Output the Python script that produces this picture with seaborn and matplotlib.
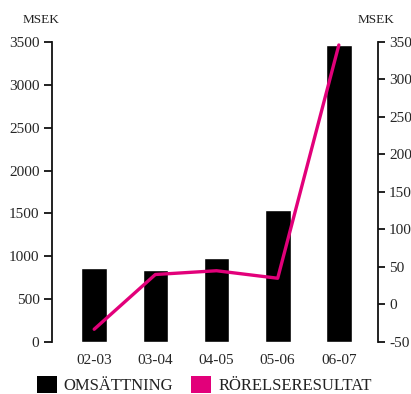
import numpy as np
import matplotlib
matplotlib.use("Agg")
import matplotlib.pyplot as plt
from matplotlib.patches import Patch
import seaborn as sns

# Fiscal years and results (MSEK)
years = ["02-03", "03-04", "04-05", "05-06", "06-07"]
omsattning = [860, 840, 975, 1535, 3460]
rorelseresultat = [-33, 40, 45, 35, 346]

left_ticks = [0, 500, 1000, 1500, 2000, 2500, 3000, 3500]
right_ticks = [-50, 0, 50, 100, 150, 200, 250, 300, 350]

BAR_COLOR = "#000000"
LINE_COLOR = "#E2007A"

sns.set_theme(style="white")
plt.rcParams["font.family"] = ["Liberation Serif", "DejaVu Serif"]
plt.rcParams["text.color"] = "#222222"

fig = plt.figure(figsize=(4.11, 3.94), dpi=100)
ax = fig.add_axes([0.1265, 0.132, 0.7932, 0.7614])

sns.barplot(x=years, y=omsattning, color=BAR_COLOR, width=0.42,
            saturation=1, ax=ax)
ax.set_xlim(-0.69, 4.64)
ax.set_ylim(0, 3500)
ax.set_yticks(left_ticks)
ax.set_xlabel("")
ax.set_ylabel("")

ax2 = ax.twinx()
sns.lineplot(x=np.arange(len(years)), y=rorelseresultat, color=LINE_COLOR,
             linewidth=2.4, ax=ax2)
ax2.set_ylim(-50, 350)
ax2.set_yticks(right_ticks)
ax2.set_yticklabels([str(t) for t in right_ticks])
ax2.set_ylabel("")
ax2.set_xlabel("")
ax2.tick_params(axis="x", bottom=False, top=False,
                labelbottom=False, labeltop=False)

for a in (ax, ax2):
    for s in ("top", "bottom"):
        a.spines[s].set_visible(False)
ax.spines["left"].set_color("#111111")
ax.spines["left"].set_linewidth(1.3)
ax.spines["right"].set_visible(False)
ax2.spines["left"].set_visible(False)
ax2.spines["right"].set_color("#111111")
ax2.spines["right"].set_linewidth(1.3)

ax.tick_params(axis="y", which="both", left=True, length=6, width=1.3,
               color="#111111", labelsize=11, pad=3)
ax.tick_params(axis="x", bottom=False, labelsize=11, pad=3)
ax2.tick_params(axis="y", which="both", right=True, length=5, width=1.3,
                color="#111111", labelsize=11, pad=3)

fig.text(0.101, 0.950, "MSEK", fontsize=9.5, ha="center", va="center")
fig.text(0.915, 0.950, "MSEK", fontsize=9.5, ha="center", va="center")

handles = [Patch(facecolor=BAR_COLOR, edgecolor="none"),
           Patch(facecolor=LINE_COLOR, edgecolor="none")]
fig.legend(handles, ["OMSÄTTNING", "RÖRELSERESULTAT"], loc="center",
           bbox_to_anchor=(0.497, 0.022), ncol=2, frameon=False,
           fontsize=12, handlelength=1.2, handleheight=1.2,
           handletextpad=0.4, columnspacing=1.1, borderpad=0)

fig.savefig("out.png", dpi=100)
